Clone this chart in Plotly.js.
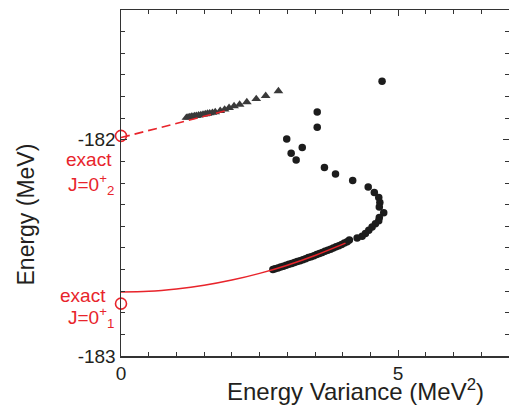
<!DOCTYPE html>
<html>
<head>
<meta charset="utf-8">
<script src="https://cdn.plot.ly/plotly-3.0.1.min.js"></script>
<style>html,body{margin:0;padding:0;background:#fff}#chart{width:509px;height:405px}</style>
</head>
<body>
<div id="chart"></div>
<script>
// Triangles (upper branch)
const triX = [1.18,1.21,1.24,1.27,1.30,1.33,1.36,1.40,1.44,1.48,1.52,1.56,1.60,1.65,1.70,1.79,1.87,1.95,2.04,2.14,2.27,2.44,2.61,2.84];
const triY = [-181.898,-181.896,-181.895,-181.893,-181.892,-181.890,-181.889,-181.887,-181.885,-181.883,-181.881,-181.879,-181.877,-181.875,-181.872,-181.866,-181.860,-181.852,-181.844,-181.837,-181.826,-181.811,-181.797,-181.775];

// Circles (lower branch)
const dotX = [4.71,3.54,3.54,2.99,3.27,3.07,3.16,3.67,3.87,4.18,4.46,4.57,4.65,4.67,4.66,4.74,4.66,4.65,4.59,4.53,4.47,4.41,4.35,4.26,4.12,
  4.08,4.03,3.98,3.93,3.88,3.83,3.78,3.73,3.68,3.63,3.58,3.53,3.48,3.43,3.38,3.33,3.28,3.23,3.18,3.13,3.08,3.03,2.98,2.93,2.88,2.83,2.78,2.74];
const dotY = [-181.729,-181.872,-181.942,-181.997,-182.036,-182.063,-182.094,-182.128,-182.158,-182.188,-182.218,-182.244,-182.267,-182.290,-182.311,-182.337,-182.360,-182.375,-182.388,-182.403,-182.418,-182.434,-182.446,-182.454,-182.464,
  -182.472,-182.478,-182.484,-182.490,-182.495,-182.501,-182.506,-182.511,-182.516,-182.521,-182.526,-182.531,-182.536,-182.541,-182.545,-182.550,-182.555,-182.559,-182.563,-182.568,-182.572,-182.576,-182.580,-182.585,-182.589,-182.593,-182.596,-182.600];

// Extrapolation curves
const fit1X = [0,0.5,1,1.5,2,2.5,3,3.5,4.05];
const fit1Y = [-182.704,-182.701,-182.690,-182.673,-182.649,-182.618,-182.580,-182.535,-182.478];
const fit2X = [0,1.95];
const fit2Y = [-181.990,-181.862];

// Exact values
const exactX = [0,0];
const exactY = [-181.982,-182.758];

const yTickVals = [-183,-182];
const yTickText = ['-183','-182'];
const xTickVals = [0,5];
const xTickText = ['0','5'];

const red = '#e8242b';
const ink = '#231f20';

const traces = [
  {x: triX, y: triY, type:'scatter', mode:'markers', marker:{symbol:'triangle-up', size:8.5, color:'#3a3a3a'}, hoverinfo:'skip'},
  {x: dotX, y: dotY, type:'scatter', mode:'markers', marker:{symbol:'circle', size:7.5, color:'#1c1c1c'}, hoverinfo:'skip'},
  {x: fit1X, y: fit1Y, type:'scatter', mode:'lines', line:{color:red, width:1.5, shape:'spline'}, hoverinfo:'skip'},
  {x: fit2X, y: fit2Y, type:'scatter', mode:'lines', line:{color:red, width:1.6, dash:'9px,5px'}, hoverinfo:'skip'},
  {x: exactX, y: exactY, type:'scatter', mode:'markers', cliponaxis:false, marker:{symbol:'circle-open', size:11, color:red, line:{width:1.6, color:red}}, hoverinfo:'skip'}
];

const annFont = {family:'Liberation Sans, Arial, sans-serif', size:19, color:red};
const layout = {
  width:509, height:405,
  margin:{l:121, r:0, t:10, b:49, pad:0},
  paper_bgcolor:'#fff', plot_bgcolor:'#fff',
  showlegend:false,
  font:{family:'Liberation Sans, Arial, sans-serif', color:ink},
  xaxis:{range:[0,7], showline:true, linecolor:'#333', linewidth:1.5, mirror:'ticks',
    ticks:'inside', ticklen:6, tickwidth:1.2, tickcolor:'#333',
    tickvals:xTickVals, ticktext:xTickText, tickfont:{size:19, color:ink},
    minor:{dtick:0.5, ticks:'inside', ticklen:4, tickwidth:1, tickcolor:'#333'},
    showgrid:false, zeroline:false, fixedrange:true},
  yaxis:{range:[-183,-181.4], showline:true, linecolor:'#333', linewidth:1.5, mirror:'ticks',
    ticks:'inside', ticklen:6, tickwidth:1.2, tickcolor:'#333',
    tickvals:yTickVals, ticktext:yTickText, tickfont:{size:19, color:ink},
    minor:{dtick:0.1, ticks:'inside', ticklen:4, tickwidth:1, tickcolor:'#333'},
    showgrid:false, zeroline:false, fixedrange:true},
  annotations:[
    {xref:'paper', yref:'paper', x:0.604, y:-0.098, xanchor:'center', yanchor:'middle', showarrow:false,
      text:'Energy Variance (MeV<sup>2</sup>)', font:{size:24, color:ink}},
    {xref:'paper', yref:'paper', x:-0.2448, y:0.409, xanchor:'center', yanchor:'middle', showarrow:false, textangle:-90,
      text:'Energy (MeV)', font:{size:23, color:ink}},
    {xref:'paper', yref:'paper', x:-0.0825, y:0.569, xanchor:'center', yanchor:'middle', showarrow:false, text:'exact', font:annFont},
    {xref:'paper', yref:'paper', x:-0.1418, y:0.497, xanchor:'left', yanchor:'middle', showarrow:false, text:'J=0<sup>+</sup><sub>2</sub>', font:annFont},
    {xref:'paper', yref:'paper', x:-0.0992, y:0.176, xanchor:'center', yanchor:'middle', showarrow:false, text:'exact', font:annFont},
    {xref:'paper', yref:'paper', x:-0.1418, y:0.112, xanchor:'left', yanchor:'middle', showarrow:false, text:'J=0<sup>+</sup><sub>1</sub>', font:annFont}
  ]
};

Plotly.newPlot('chart', traces, layout, {displayModeBar:false, staticPlot:true});
</script>
</body>
</html>
